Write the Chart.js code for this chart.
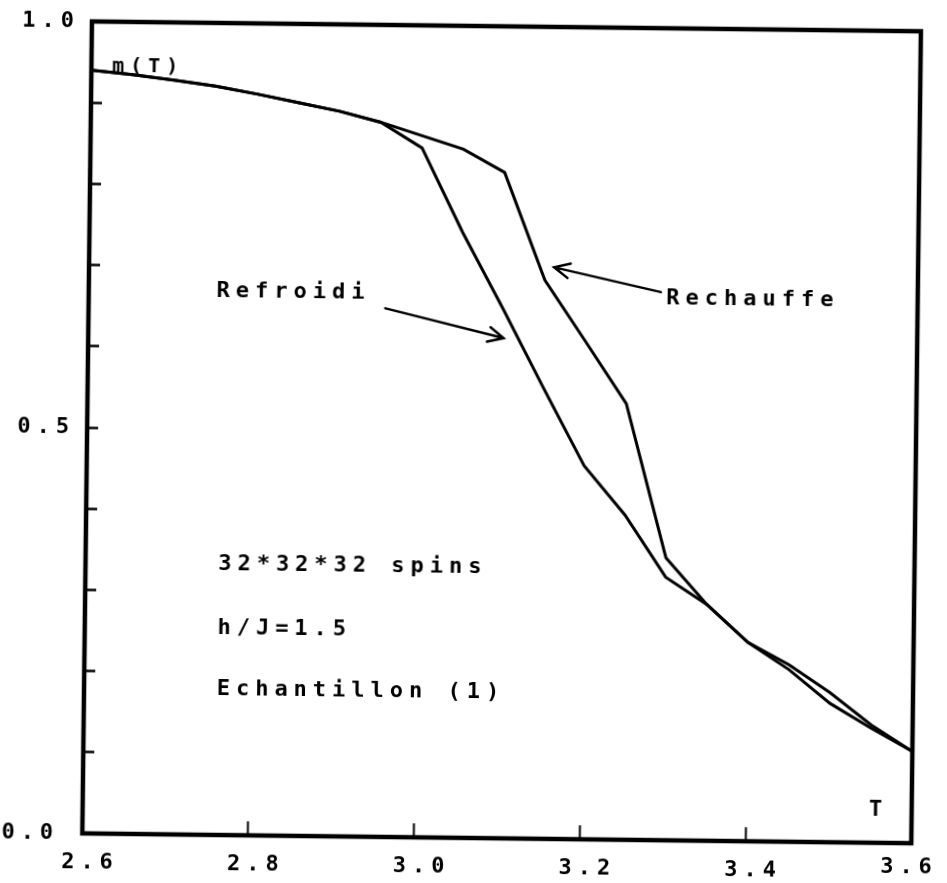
<!DOCTYPE html>
<html>
<head>
<meta charset="utf-8">
<script src="https://cdn.jsdelivr.net/npm/chart.js@4.4.0/dist/chart.umd.min.js"></script>
<style>
    html, body { margin: 0; padding: 0; background: #fff; }
    #wrap { width: 947px; height: 883px; overflow: hidden; background: #fff; }
    /* the scanned plot is slightly tilted */
    #chart { display: block; transform: rotate(0.68deg); transform-origin: 50% 50%; }
</style>
</head>
<body>
<div id="wrap"><canvas id="chart" width="947" height="883"></canvas></div>
<script>
// temperatures T (every 0.05)
var temps = [2.60, 2.65, 2.70, 2.75, 2.80, 2.85, 2.90, 2.95, 3.00, 3.05,
             3.10, 3.15, 3.20, 3.25, 3.30, 3.35, 3.40, 3.45, 3.50, 3.55, 3.60];
// m(T) on heating
var rechauffe = [0.940, 0.935, 0.929, 0.922, 0.913, 0.903, 0.893, 0.880, 0.864, 0.848,
                 0.820, 0.688, 0.613, 0.537, 0.348, 0.291, 0.245, 0.218, 0.184, 0.145, 0.113];
// m(T) on cooling
var refroidi = [0.940, 0.935, 0.929, 0.922, 0.913, 0.903, 0.893, 0.880, 0.849, 0.746,
                0.652, 0.555, 0.460, 0.400, 0.324, 0.291, 0.245, 0.212, 0.171, 0.141, 0.113];
var yLabelled = [0.5, 1.0];

var fontFamily = "'DejaVu Sans Mono', 'Liberation Mono', monospace";
var textSpacing = '6px';

// text placed in data units
var notes = [
    { text: 'm(T)', x: 2.625, y: 0.938, align: 'left', size: 20 },
    { text: 'Refroidi', x: 2.847, y: 0.670, align: 'center', size: 22 },
    { text: 'Rechauffe', x: 3.401, y: 0.667, align: 'center', size: 22 },
    { text: '32*32*32 spins', x: 2.76, y: 0.334, align: 'left', size: 22 },
    { text: 'h/J=1.5', x: 2.76, y: 0.255, align: 'left', size: 22 },
    { text: 'Echantillon (1)', x: 2.76, y: 0.180, align: 'left', size: 22 },
    { text: 'T', x: 3.56, y: 0.04, align: 'center', size: 22 }
];
var arrows = [
    { from: [2.958, 0.651], to: [3.101, 0.616] },
    { from: [3.290, 0.675], to: [3.161, 0.704] }
];

function noPadding(scale) {
    scale.paddingTop = 0;
    scale.paddingBottom = 0;
    scale.paddingLeft = 0;
    scale.paddingRight = 0;
}

var plotterText = {
    id: 'plotterText',
    beforeDraw: function (chart) {
        chart.ctx.letterSpacing = textSpacing;
    },
    afterDraw: function (chart) {
        var ctx = chart.ctx, xs = chart.scales.x, ys = chart.scales.y, a = chart.chartArea;
        ctx.save();
        ctx.strokeStyle = '#000';
        ctx.fillStyle = '#000';
        // frame
        ctx.lineWidth = 4.5;
        ctx.strokeRect(a.left, a.top, a.right - a.left, a.bottom - a.top);

        ctx.letterSpacing = textSpacing;
        notes.forEach(function (n) {
            ctx.font = 'bold ' + n.size + 'px ' + fontFamily;
            ctx.textAlign = n.align;
            ctx.textBaseline = n.text === 'm(T)' ? 'alphabetic' : 'middle';
            ctx.fillText(n.text, xs.getPixelForValue(n.x), ys.getPixelForValue(n.y));
        });
        // corner labels pushed off their ticks, as on the plot
        ctx.font = 'bold 22px ' + fontFamily;
        ctx.textAlign = 'center';
        ctx.textBaseline = 'middle';
        ctx.fillText('0.0', a.left - 52, ys.getPixelForValue(0));
        ctx.fillText('3.6', xs.getPixelForValue(3.6) - 2, xs.top + 24);

        // arrows
        ctx.lineWidth = 2.5;
        ctx.lineCap = 'round';
        arrows.forEach(function (ar) {
            var x1 = xs.getPixelForValue(ar.from[0]), y1 = ys.getPixelForValue(ar.from[1]);
            var x2 = xs.getPixelForValue(ar.to[0]), y2 = ys.getPixelForValue(ar.to[1]);
            var ang = Math.atan2(y2 - y1, x2 - x1), len = 17, spread = 0.45;
            ctx.beginPath();
            ctx.moveTo(x1, y1);
            ctx.lineTo(x2, y2);
            ctx.moveTo(x2 - len * Math.cos(ang - spread), y2 - len * Math.sin(ang - spread));
            ctx.lineTo(x2, y2);
            ctx.lineTo(x2 - len * Math.cos(ang + spread), y2 - len * Math.sin(ang + spread));
            ctx.stroke();
        });
        ctx.restore();
    }
};

Chart.defaults.font.family = fontFamily;
Chart.defaults.font.weight = 'bold';
Chart.defaults.color = '#000';

var chart = new Chart(document.getElementById('chart'), {
    type: 'line',
    data: {
        labels: temps,
        datasets: [
            {
                label: 'Rechauffe',
                data: temps.map(function (t, i) { return { x: t, y: rechauffe[i] }; }),
                borderColor: '#000',
                borderWidth: 3,
                pointRadius: 0,
                tension: 0,
                fill: false
            },
            {
                label: 'Refroidi',
                data: temps.map(function (t, i) { return { x: t, y: refroidi[i] }; }),
                borderColor: '#000',
                borderWidth: 3,
                pointRadius: 0,
                tension: 0,
                fill: false
            }
        ]
    },
    options: {
        responsive: false,
        animation: false,
        layout: { autoPadding: false, padding: { top: 26, right: 31, left: 0, bottom: 0 } },
        plugins: {
            legend: { display: false },
            tooltip: { enabled: false }
        },
        scales: {
            x: {
                type: 'linear',
                min: 2.6,
                max: 3.6,
                afterFit: function (scale) { scale.height = 45; noPadding(scale); },
                border: { display: false },
                grid: {
                    drawOnChartArea: false,
                    drawTicks: true,
                    tickLength: -14,
                    tickWidth: 2,
                    color: '#000'
                },
                ticks: {
                    stepSize: 0.2,
                    autoSkip: false,
                    maxRotation: 0,
                    padding: 30,
                    labelOffset: 8,
                    color: '#000',
                    font: { size: 22, weight: 'bold' },
                    callback: function (v) {
                        return Math.abs(v - 3.6) < 1e-6 ? '' : Number(v).toFixed(1);
                    }
                }
            },
            y: {
                min: 0,
                max: 1,
                afterFit: function (scale) { scale.width = 87; noPadding(scale); },
                border: { display: false },
                grid: {
                    drawOnChartArea: false,
                    drawTicks: true,
                    tickLength: -11,
                    tickWidth: 2.5,
                    color: '#000'
                },
                ticks: {
                    stepSize: 0.1,
                    autoSkip: false,
                    padding: 23,
                    color: '#000',
                    font: { size: 22, weight: 'bold' },
                    callback: function (v) {
                        var hit = yLabelled.some(function (l) { return Math.abs(l - v) < 1e-6; });
                        return hit ? Number(v).toFixed(1) : '';
                    }
                }
            }
        }
    },
    plugins: [plotterText]
});
</script>
</body>
</html>
